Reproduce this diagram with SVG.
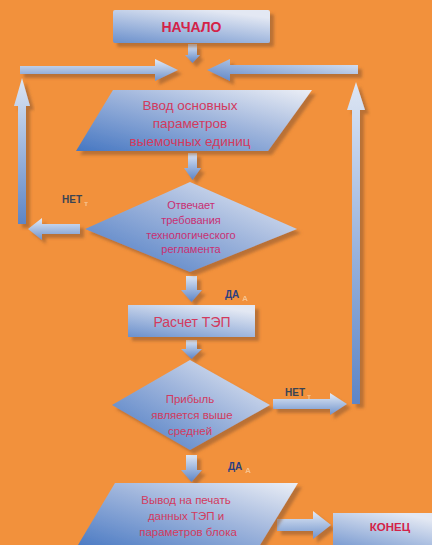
<svg xmlns="http://www.w3.org/2000/svg" width="432" height="545" viewBox="0 0 432 545">
<defs>
<linearGradient id="gBox" x1="0" y1="1" x2="1" y2="0">
<stop offset="0" stop-color="#4677c2"/>
<stop offset="0.55" stop-color="#9fb5dc"/>
<stop offset="1" stop-color="#eceff6"/>
</linearGradient>
<linearGradient id="gRect" x1="0" y1="1" x2="0.6" y2="0">
<stop offset="0" stop-color="#6b90cc"/>
<stop offset="1" stop-color="#e3e8f3"/>
</linearGradient>
<linearGradient id="gArrH" x1="0" y1="0" x2="0" y2="1">
<stop offset="0" stop-color="#e4ebf6"/>
<stop offset="1" stop-color="#6f93cc"/>
</linearGradient>
<linearGradient id="gArrV" x1="0" y1="0" x2="0" y2="1">
<stop offset="0" stop-color="#dde6f4"/>
<stop offset="1" stop-color="#5d85c6"/>
</linearGradient>
<linearGradient id="gArrL" x1="1" y1="0" x2="0" y2="1">
<stop offset="0" stop-color="#e4ebf6"/>
<stop offset="1" stop-color="#5d85c6"/>
</linearGradient>
<filter id="sh" x="-20%" y="-20%" width="150%" height="150%">
<feDropShadow dx="4" dy="4" stdDeviation="1.5" flood-color="#8a5530" flood-opacity="0.55"/>
</filter>
</defs>
<style>
.t{font-family:"Liberation Sans","Noto Sans",sans-serif;text-anchor:middle;fill:#d23a5e}
.tb{font-weight:bold;fill:#d42248}
.td{fill:#c92f72}
.lbl{font-family:"Liberation Sans","Noto Sans",sans-serif;font-weight:bold;font-size:10px;fill:#3a4454}
.lbd{fill:#2b3f80}
.gh{font-family:"Liberation Sans","Noto Sans",sans-serif;font-weight:bold;font-size:8px;fill:#f7c796;opacity:0.9}
.ar{filter:url(#sh)}
</style>
<rect x="0" y="0" width="432" height="545" fill="#f2913c"/>

<g id="connectors">
<polygon class="ar" fill="url(#gArrV)" points="188,44 197,44 197,55 200,55 192.5,63 185,55 188,55"/>
<polygon class="ar" fill="url(#gArrH)" points="20,66 155,66 155,59 178,70 155,81 155,74 20,74"/>
<polygon class="ar" fill="url(#gArrL)" points="358,65 230,65 230,59 207,70 230,81 230,74 358,74"/>
<polygon class="ar" fill="url(#gArrV)" points="18,224 18,106 14,106 22,78 30,106 26,106 26,224"/>
<polygon class="ar" fill="url(#gArrH)" points="80,224 42,224 42,218 28,229 42,240 42,234 80,234"/>
<polygon class="ar" fill="url(#gArrV)" points="352,404 352,110 347,110 356,82 365,110 360,110 360,404"/>
<polygon class="ar" fill="url(#gArrH)" points="273,399 330,399 330,393 347,404 330,415 330,409 273,409"/>
<polygon class="ar" fill="url(#gArrV)" points="188,153 197,153 197,168 201,168 192.5,180 184,168 188,168"/>
<polygon class="ar" fill="url(#gArrV)" points="186,276 197,276 197,290 202,290 191.5,302 181,290 186,290"/>
<polygon class="ar" fill="url(#gArrV)" points="186,340 197,340 197,349 202,349 191.5,359 181,349 186,349"/>
<polygon class="ar" fill="url(#gArrV)" points="186,455 197,455 197,470 202,470 191.5,482 181,470 186,470"/>
<polygon class="ar" fill="url(#gArrH)" points="277,519 313,519 313,511 331,525 313,539 313,531 277,531"/>
</g>

<g id="labels">
<text class="lbl" x="62" y="203">НЕТ</text>
<text class="gh" x="84" y="206">т</text>
<text class="lbl lbd" x="225" y="298">ДА</text>
<text class="gh" x="242" y="301">А</text>
<text class="lbl" x="285" y="396">НЕТ</text>
<text class="gh" x="307" y="399">т</text>
<text class="lbl lbd" x="228" y="470">ДА</text>
<text class="gh" x="245" y="473">А</text>
</g>

<g id="node-start">
<rect x="113" y="10" width="157" height="33" rx="2" fill="url(#gRect)" filter="url(#sh)"/>
<text class="t tb" x="191.5" y="32" font-size="14">НАЧАЛО</text>
</g>

<g id="node-input">
<polygon points="113,90 312,90 268,151 76,151" fill="url(#gBox)" filter="url(#sh)"/>
<text class="t" x="190" y="110" font-size="13.5">Ввод основных</text>
<text class="t" x="190" y="128" font-size="13.5">параметров</text>
<text class="t" x="190" y="146" font-size="13.5">выемочных единиц</text>
</g>

<g id="node-check">
<polygon points="190,182 297,229 190,272 85,229" fill="url(#gBox)" filter="url(#sh)"/>
<text class="t td" x="191" y="209" font-size="11">Отвечает</text>
<text class="t td" x="191" y="224" font-size="11">требования</text>
<text class="t td" x="191" y="238.5" font-size="11">технологического</text>
<text class="t td" x="191" y="253" font-size="11">регламента</text>
</g>

<g id="node-calc">
<rect x="128" y="305" width="127" height="32" fill="url(#gRect)" filter="url(#sh)"/>
<text class="t" x="192" y="327" font-size="14">Расчет ТЭП</text>
</g>

<g id="node-profit">
<polygon points="190,360 270,405 190,450 112,405" fill="url(#gBox)" filter="url(#sh)"/>
<text class="t" x="190" y="403" font-size="11.5">Прибыль</text>
<text class="t" x="192" y="419" font-size="11.5">является выше</text>
<text class="t" x="190" y="435" font-size="11.5">средней</text>
</g>

<g id="node-output">
<polygon points="115,483 298,483 257,550 75,550" fill="url(#gBox)" filter="url(#sh)"/>
<text class="t" x="186" y="504" font-size="11.5">Вывод на печать</text>
<text class="t" x="186" y="520" font-size="11.5">данных ТЭП и</text>
<text class="t" x="188" y="536" font-size="11.5">параметров блока</text>
</g>

<g id="node-end">
<rect x="333" y="513" width="110" height="40" fill="url(#gRect)" filter="url(#sh)"/>
<text class="t tb" x="390" y="531" font-size="11.5">КОНЕЦ</text>
</g>
</svg>
